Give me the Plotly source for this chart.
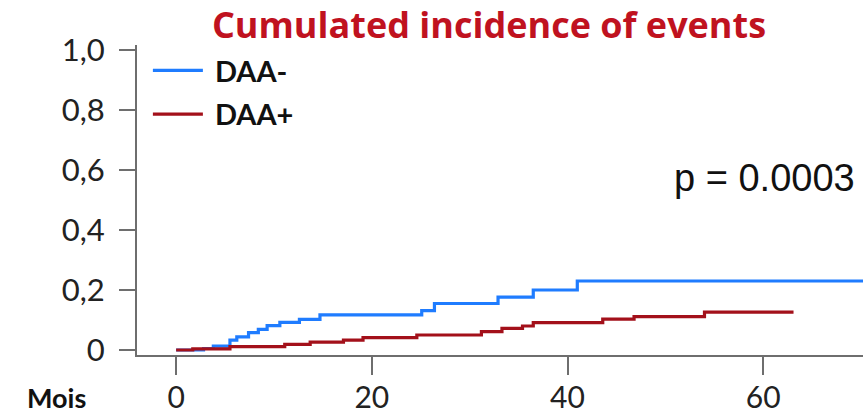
import plotly.graph_objects as go

# Data (months, cumulated incidence)
daa_neg_t = [0, 2.8, 3.8, 5.5, 6.2, 7.4, 8.4, 9.3, 10.6, 12.6, 14.7, 25.1, 26.4, 32.9, 36.5, 41.0, 72]
daa_neg_v = [0, 0.005, 0.013, 0.033, 0.044, 0.058, 0.069, 0.081, 0.092, 0.102, 0.117, 0.131, 0.155, 0.176, 0.2, 0.23, 0.23]
daa_pos_t = [0, 1.7, 5.5, 11.1, 13.7, 17.1, 19.1, 24.6, 31.2, 33.3, 35.4, 36.5, 43.6, 46.8, 54.0, 63.1]
daa_pos_v = [0, 0.004, 0.011, 0.019, 0.026, 0.033, 0.041, 0.05, 0.061, 0.072, 0.08, 0.091, 0.103, 0.111, 0.126, 0.126]

x_ticks = [0, 20, 40, 60]
y_ticks = [0, 0.2, 0.4, 0.6, 0.8, 1.0]
y_tick_labels = ["0", "0,2", "0,4", "0,6", "0,8", "1,0"]

title_text = "Cumulated incidence of events"
p_text = "p = 0.0003"
x_label = "Mois"
series_names = ["DAA-", "DAA+"]

BLUE = "#1f7cff"
RED = "#a3101a"
AXIS = "#6e6e6e"

fig = go.Figure()
fig.add_trace(go.Scatter(x=daa_neg_t, y=daa_neg_v, mode="lines", line_shape="hv",
                         line=dict(color=BLUE, width=3.2), name="<b>\u00a0" + series_names[0] + "</b>",
                         legendgroup="a"))
fig.add_trace(go.Scatter(x=daa_pos_t, y=daa_pos_v, mode="lines", line_shape="hv",
                         line=dict(color=RED, width=3.2), name="<b>\u00a0" + series_names[1] + "</b>",
                         legendgroup="b"))

fig.update_layout(
    width=863, height=413,
    margin=dict(l=137, r=0, t=45, b=58, autoexpand=False),
    paper_bgcolor="white", plot_bgcolor="white",
    font=dict(family="Lato", color="#222222"),
    title=dict(text="<b>" + title_text + "</b>", x=489 / 863, xanchor="center", xref="container",
               y=1 - 25 / 413, yanchor="middle", yref="container",
               font=dict(family="Open Sans", size=36, color="#c0121f")),
    showlegend=True,
    legend=dict(x=0.015, y=1.0, xanchor="left", yanchor="top",
                font=dict(family="Lato", size=29, color="#111111"),
                bgcolor="rgba(0,0,0,0)", tracegroupgap=3, itemwidth=50),
    xaxis=dict(range=[-4, 70.2], tickmode="array", tickvals=x_ticks, automargin=False,
               showline=True, linecolor=AXIS, linewidth=2, showgrid=False, zeroline=False,
               ticks="outside", ticklen=18, tickwidth=2, tickcolor=AXIS,
               tickfont=dict(family="Lato", size=30, color="#222222"), ticklabelstandoff=-3),
    yaxis=dict(range=[-0.0167, 1.017], tickmode="array", tickvals=y_ticks, ticktext=y_tick_labels,
               automargin=False,
               showline=True, linecolor=AXIS, linewidth=2, showgrid=False, zeroline=False,
               ticks="outside", ticklen=16, tickwidth=2, tickcolor=AXIS,
               tickfont=dict(family="Lato", size=31, color="#222222"), ticklabelstandoff=8),
    annotations=[
        dict(text=p_text, x=50.7, y=0.573, xref="x", yref="y", xanchor="left", yanchor="middle",
             showarrow=False, font=dict(family="Liberation Sans", size=38, color="#111111")),
        dict(text="<b>" + x_label + "</b>", x=0, y=0, xref="paper", yref="paper",
             xshift=-112, yshift=-42, xanchor="left", yanchor="middle", showarrow=False,
             font=dict(family="Lato", size=27, color="#111111")),
    ],
)

fig.write_html("out.html")
